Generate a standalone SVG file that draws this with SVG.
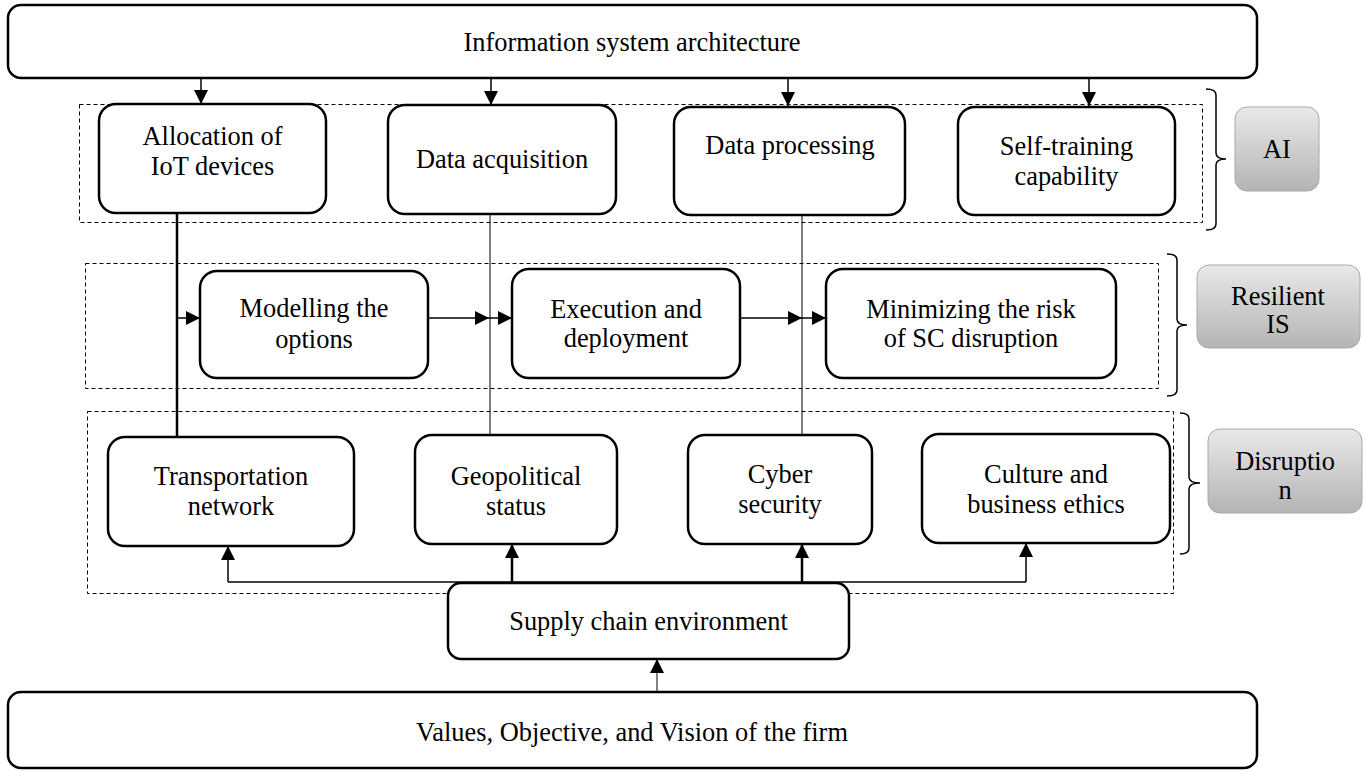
<svg xmlns="http://www.w3.org/2000/svg" width="1366" height="772" viewBox="0 0 1366 772">
<defs>
<linearGradient id="g" x1="0" y1="0" x2="0" y2="1"><stop offset="0" stop-color="#e9e9e9"/><stop offset="1" stop-color="#b4b4b4"/></linearGradient>
<marker id="ah" viewBox="0 0 14 14" refX="14" refY="7" markerWidth="14" markerHeight="14" markerUnits="userSpaceOnUse" orient="auto"><path d="M0,0 L14,7 L0,14 Z" fill="#000"/></marker>
</defs>
<style>
.box{fill:#fff;stroke:#000;stroke-width:2.5}
.grp{fill:none;stroke:#000;stroke-width:1;stroke-dasharray:4 3}
.lbl{fill:url(#g);stroke:#a8a8a8;stroke-width:1}
.t{font-family:"Liberation Serif","Times New Roman",serif;font-size:26.4px;fill:#000;text-anchor:middle}
.c{fill:none;stroke:#000;stroke-width:1.5}
.thin{stroke-width:1}
.thick{stroke-width:2.5}
.br{fill:none;stroke:#000;stroke-width:1.5}
</style>

<g id="groups">
<rect class="grp" x="79.5" y="104.5" width="1123" height="118"/>
<rect class="grp" x="85.5" y="263.5" width="1073" height="125"/>
<rect class="grp" x="87.5" y="411.5" width="1086" height="182"/>
<path class="br" d="M1206,89 Q1216,89 1216,95 V153 Q1216,159 1226,159 Q1216,159 1216,165 V224 Q1216,230 1206,230"/>
<path class="br" d="M1167,254 Q1177,254 1177,260 V319 Q1177,325 1187,325 Q1177,325 1177,331 V390 Q1177,396 1167,396"/>
<path class="br" d="M1180,413 Q1189,413 1189,419 V477 Q1189,483 1200,483 Q1189,483 1189,489 V548 Q1189,554 1180,554"/>
</g>

<g id="connectors">
<line class="c" x1="201" y1="78" x2="201" y2="104" marker-end="url(#ah)"/>
<line class="c" x1="491" y1="78" x2="491" y2="105" marker-end="url(#ah)"/>
<line class="c" x1="788" y1="78" x2="788" y2="106" marker-end="url(#ah)"/>
<line class="c" x1="1089" y1="78" x2="1089" y2="106" marker-end="url(#ah)"/>
<line class="c thick" x1="177" y1="213" x2="177" y2="437"/>
<line class="c thin" x1="490" y1="214" x2="490" y2="435"/>
<line class="c thin" x1="802" y1="215" x2="802" y2="435"/>
<line class="c" x1="177" y1="318" x2="200" y2="318" marker-end="url(#ah)"/>
<line class="c" x1="428" y1="318" x2="489" y2="318" marker-end="url(#ah)"/>
<line class="c" x1="489" y1="318" x2="512" y2="318" marker-end="url(#ah)"/>
<line class="c" x1="740" y1="318" x2="802" y2="318" marker-end="url(#ah)"/>
<line class="c" x1="802" y1="318" x2="826" y2="318" marker-end="url(#ah)"/>
<polyline class="c" points="228,582 1026,582"/>
<line class="c" x1="228" y1="582" x2="228" y2="546" marker-end="url(#ah)"/>
<line class="c" x1="1026" y1="582" x2="1026" y2="543" marker-end="url(#ah)"/>
<line class="c thick" x1="512" y1="583" x2="512" y2="544" marker-end="url(#ah)"/>
<line class="c thick" x1="802" y1="583" x2="802" y2="544" marker-end="url(#ah)"/>
<line class="c thin" x1="657" y1="692" x2="657" y2="659" marker-end="url(#ah)"/>
</g>

<g id="n-top"><rect class="box" x="8" y="5" width="1249" height="73" rx="13"/><text class="t" x="632" y="51">Information system architecture</text></g>
<g id="n-alloc"><rect class="box" x="99" y="104" width="227" height="109" rx="17"/><text class="t" x="212.5" y="145">Allocation of</text><text class="t" x="212.5" y="175">IoT devices</text></g>
<g id="n-acq"><rect class="box" x="388" y="105" width="228" height="109" rx="17"/><text class="t" x="502" y="168">Data acquisition</text></g>
<g id="n-proc"><rect class="box" x="674" y="107" width="231" height="108" rx="17"/><text class="t" x="790" y="154">Data processing</text></g>
<g id="n-self"><rect class="box" x="958" y="107" width="217" height="108" rx="17"/><text class="t" x="1066.5" y="155">Self-training</text><text class="t" x="1066.5" y="185">capability</text></g>
<g id="l-ai"><rect class="lbl" x="1235" y="107" width="84" height="84" rx="12"/><text class="t" x="1277" y="158">AI</text></g>

<g id="n-model"><rect class="box" x="200" y="271" width="228" height="107" rx="17"/><text class="t" x="314" y="317">Modelling the</text><text class="t" x="314" y="348">options</text></g>
<g id="n-exec"><rect class="box" x="512" y="269" width="228" height="109" rx="17"/><text class="t" x="626" y="318">Execution and</text><text class="t" x="626" y="347">deployment</text></g>
<g id="n-min"><rect class="box" x="826" y="269" width="290" height="109" rx="17"/><text class="t" x="971" y="318">Minimizing the risk</text><text class="t" x="971" y="347">of SC disruption</text></g>
<g id="l-res"><rect class="lbl" x="1197" y="265" width="163" height="83" rx="12"/><text class="t" x="1278" y="305">Resilient</text><text class="t" x="1278" y="333">IS</text></g>

<g id="n-trans"><rect class="box" x="108" y="437" width="246" height="109" rx="17"/><text class="t" x="231" y="485">Transportation</text><text class="t" x="231" y="515">network</text></g>
<g id="n-geo"><rect class="box" x="415" y="435" width="202" height="109" rx="17"/><text class="t" x="516" y="485">Geopolitical</text><text class="t" x="516" y="515">status</text></g>
<g id="n-cyber"><rect class="box" x="688" y="435" width="184" height="109" rx="17"/><text class="t" x="780" y="483">Cyber</text><text class="t" x="780" y="513">security</text></g>
<g id="n-culture"><rect class="box" x="922" y="434" width="248" height="109" rx="17"/><text class="t" x="1046" y="483">Culture and</text><text class="t" x="1046" y="513">business ethics</text></g>
<g id="l-dis"><rect class="lbl" x="1208" y="429" width="154" height="84" rx="12"/><text class="t" x="1285" y="470">Disruptio</text><text class="t" x="1285" y="499">n</text></g>

<g id="n-supply"><rect class="box" x="448" y="583" width="401" height="76" rx="13"/><text class="t" x="648.5" y="630">Supply chain environment</text></g>
<g id="n-values"><rect class="box" x="8" y="692" width="1249" height="76" rx="13"/><text class="t" x="632" y="741">Values, Objective, and Vision of the firm</text></g>
</svg>
